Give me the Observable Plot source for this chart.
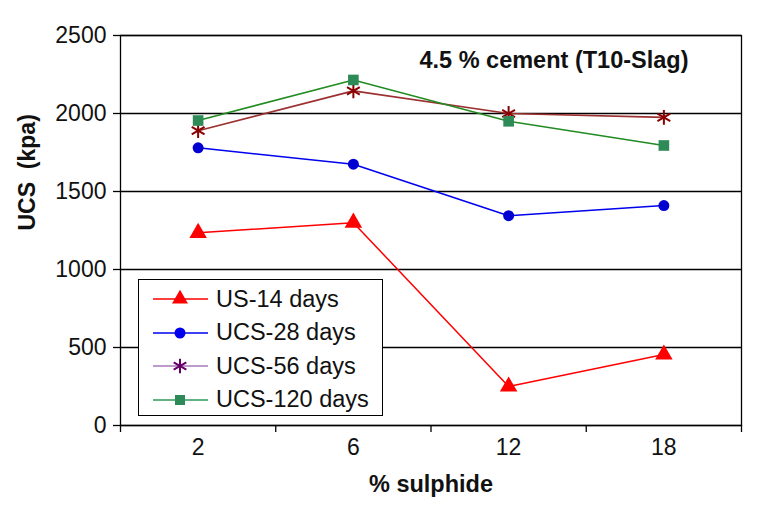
<!DOCTYPE html>
<html>
<head>
<meta charset="utf-8">
<script src="https://cdn.jsdelivr.net/npm/d3@7"></script>
<script src="https://cdn.jsdelivr.net/npm/@observablehq/plot@0.6"></script>
<style>
  body { margin: 0; background: #fff; }
  #wrap { position: relative; width: 764px; height: 511px; font-family: "Liberation Sans", Arial, sans-serif; }
  #legend { position: absolute; left: 138px; top: 279px; width: 245px; height: 137px; border: 1.4px solid #000; background: #fff; box-sizing: border-box; }
  .row { position: absolute; left: 0; height: 30px; display: flex; align-items: center; white-space: nowrap; }
  .row span { font-size: 23.5px; color: #111; margin-left: 7px; }
</style>
</head>
<body>
<div id="wrap"></div>
<script>
const sulphide = ["2", "6", "12", "18"];
const us14 = [1235, 1300, 250, 455];
const ucs28 = [1780, 1675, 1345, 1410];
const ucs56 = [1890, 2145, 2000, 1975];
const ucs120 = [1955, 2215, 1950, 1795];
const yTicks = [0, 500, 1000, 1500, 2000, 2500];
const seriesNames = ["US-14 days", "UCS-28 days", "UCS-56 days", "UCS-120 days"];

const idx = (d, i) => i;
const val = d => d;
const bounds = sulphide.map((_, i) => i - 0.5).concat([sulphide.length - 0.5]);

const chart = Plot.plot({
  width: 764,
  height: 511,
  marginLeft: 120,
  marginRight: 23,
  marginTop: 35,
  marginBottom: 86,
  style: { fontFamily: "Liberation Sans, Arial, sans-serif", background: "#fff", overflow: "visible" },
  x: { type: "linear", domain: [-0.5, sulphide.length - 0.5], axis: null },
  y: { domain: [0, 2500], axis: null },
  marks: [
    Plot.gridY(yTicks, { stroke: "#000", strokeOpacity: 1, strokeWidth: 1.3 }),
    Plot.frame({ stroke: "#000", strokeWidth: 1.3 }),
    Plot.axisY(yTicks, { tickSize: 7, tickPadding: 7, tickFormat: "d", fontSize: 23, stroke: "#000", strokeWidth: 1.3, fill: "#111", label: null }),
    Plot.axisX(bounds, { tickSize: 7, tickFormat: () => "", stroke: "#000", strokeWidth: 1.3, label: null }),
    Plot.axisX(sulphide.map((_, i) => i), { tickSize: 0, tickPadding: 13, tickFormat: i => sulphide[i], fontSize: 23, fill: "#111", label: null }),
    Plot.text(["% sulphide"], { frameAnchor: "bottom", dy: 66, fontSize: 23.5, fontWeight: "bold", fill: "#111" }),
    Plot.text(["UCS  (kpa)"], { frameAnchor: "left", dx: -93, rotate: -90, fontSize: 23, fontWeight: "bold", fill: "#111" }),
    Plot.text(["4.5 % cement (T10-Slag)"], { frameAnchor: "top-right", dx: -53, dy: 25, textAnchor: "end", lineAnchor: "middle", fontSize: 23.5, fontWeight: "bold", fill: "#111" }),

    Plot.line(us14, { x: idx, y: val, stroke: "#ff0000", strokeWidth: 1.5 }),
    Plot.dot(us14, { x: idx, y: val, symbol: "triangle", r: 6.5, fill: "#ff0000" }),

    Plot.line(ucs28, { x: idx, y: val, stroke: "#0000ee", strokeWidth: 1.5 }),
    Plot.dot(ucs28, { x: idx, y: val, symbol: "circle", r: 5.5, fill: "#0000d0" }),

    Plot.line(ucs56, { x: idx, y: val, stroke: "#9b3030", strokeWidth: 1.6 }),
    Plot.dot(ucs56, { x: idx, y: val, symbol: "asterisk", r: 7, stroke: "#8b0000", strokeWidth: 2 }),

    Plot.line(ucs120, { x: idx, y: val, stroke: "#228b22", strokeWidth: 1.6 }),
    Plot.dot(ucs120, { x: idx, y: val, symbol: "square", r: 6, fill: "#2e8b57" })
  ]
});

const wrap = document.getElementById("wrap");
wrap.appendChild(chart);

// legend overlay
const legendStyles = [
  { line: "#ff0000", fill: "#ff0000", stroke: "none", sym: d3.symbolTriangle, size: 110 },
  { line: "#0000ee", fill: "#0000ee", stroke: "none", sym: d3.symbolCircle, size: 95 },
  { line: "#a678b8", fill: "none", stroke: "#660066", sym: d3.symbolAsterisk, size: 150 },
  { line: "#2e9a5a", fill: "#2e8b57", stroke: "none", sym: d3.symbolSquare, size: 100 }
];
const legend = document.createElement("div");
legend.id = "legend";
seriesNames.forEach((name, i) => {
  const st = legendStyles[i];
  const row = document.createElement("div");
  row.className = "row";
  row.style.top = (4 + i * 33.5) + "px";
  const svg = d3.create("svg").attr("width", 70).attr("height", 30);
  svg.append("line").attr("x1", 14).attr("x2", 69).attr("y1", 15).attr("y2", 15)
    .attr("stroke", st.line).attr("stroke-width", 1.6);
  svg.append("path").attr("transform", "translate(41,15)")
    .attr("d", d3.symbol(st.sym, st.size)())
    .attr("fill", st.fill).attr("stroke", st.stroke).attr("stroke-width", 2);
  row.appendChild(svg.node());
  const span = document.createElement("span");
  span.textContent = name;
  row.appendChild(span);
  legend.appendChild(row);
});
wrap.appendChild(legend);
</script>
</body>
</html>
